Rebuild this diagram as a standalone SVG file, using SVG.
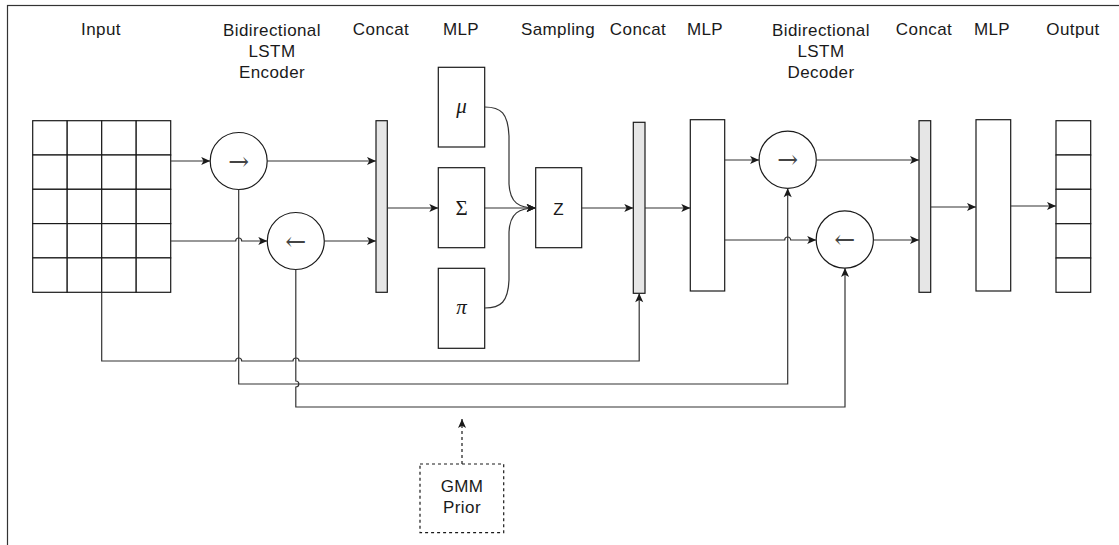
<svg xmlns="http://www.w3.org/2000/svg" width="1119" height="545" viewBox="0 0 1119 545">
<style>
.lbl{font-family:"Liberation Sans",Arial,sans-serif;font-size:17px;letter-spacing:0.4px;fill:#1a1a1a;text-anchor:middle}
.box{fill:#ffffff;stroke:#1a1a1a;stroke-width:1.2}
.bar{fill:#e6e6e6;stroke:#1a1a1a;stroke-width:1.2}
.cell{fill:#ffffff;stroke:#1a1a1a;stroke-width:1.2}
.circ{fill:#ffffff;stroke:#1a1a1a;stroke-width:1.2}
.conn{fill:none;stroke:#333333;stroke-width:1.2;marker-end:url(#arr)}
.dash{fill:none;stroke:#1a1a1a;stroke-width:1.2;stroke-dasharray:3,3;marker-end:url(#arr)}
.sym{font-family:"DejaVu Serif","Liberation Serif",serif;font-size:25px;fill:#444444;text-anchor:middle}
.greek{font-family:"Liberation Serif","DejaVu Serif",serif;font-size:21px;fill:#1a1a1a;text-anchor:middle}
</style>
<defs>
<marker id="arr" viewBox="0 0 10 10" refX="10" refY="5" markerWidth="10" markerHeight="9" markerUnits="userSpaceOnUse" orient="auto">
<path d="M0,0.5 L10,5 L0,9.5 L2.5,5 Z" fill="#1a1a1a"/>
</marker>
</defs>
<rect x="7.5" y="5.5" width="1200" height="600" fill="#ffffff" stroke="#333333" stroke-width="1.2"/>

<g id="labels">
<text class="lbl" x="101" y="35">Input</text>
<text class="lbl" x="272" y="35.5">Bidirectional</text>
<text class="lbl" x="272" y="57">LSTM</text>
<text class="lbl" x="272" y="78.3">Encoder</text>
<text class="lbl" x="381" y="35">Concat</text>
<text class="lbl" x="461" y="35">MLP</text>
<text class="lbl" x="558" y="35">Sampling</text>
<text class="lbl" x="638" y="35">Concat</text>
<text class="lbl" x="705" y="35">MLP</text>
<text class="lbl" x="821" y="35.5">Bidirectional</text>
<text class="lbl" x="821" y="57">LSTM</text>
<text class="lbl" x="821" y="78.3">Decoder</text>
<text class="lbl" x="924" y="35">Concat</text>
<text class="lbl" x="992" y="35">MLP</text>
<text class="lbl" x="1073" y="35">Output</text>
</g>

<g id="input-grid">
<rect class="cell" x="32.7" y="120.7" width="34.5" height="34.3"/>
<rect class="cell" x="67.2" y="120.7" width="34.5" height="34.3"/>
<rect class="cell" x="101.7" y="120.7" width="34.5" height="34.3"/>
<rect class="cell" x="136.2" y="120.7" width="34.5" height="34.3"/>
<rect class="cell" x="32.7" y="155" width="34.5" height="34.3"/>
<rect class="cell" x="67.2" y="155" width="34.5" height="34.3"/>
<rect class="cell" x="101.7" y="155" width="34.5" height="34.3"/>
<rect class="cell" x="136.2" y="155" width="34.5" height="34.3"/>
<rect class="cell" x="32.7" y="189.3" width="34.5" height="34.3"/>
<rect class="cell" x="67.2" y="189.3" width="34.5" height="34.3"/>
<rect class="cell" x="101.7" y="189.3" width="34.5" height="34.3"/>
<rect class="cell" x="136.2" y="189.3" width="34.5" height="34.3"/>
<rect class="cell" x="32.7" y="223.6" width="34.5" height="34.3"/>
<rect class="cell" x="67.2" y="223.6" width="34.5" height="34.3"/>
<rect class="cell" x="101.7" y="223.6" width="34.5" height="34.3"/>
<rect class="cell" x="136.2" y="223.6" width="34.5" height="34.3"/>
<rect class="cell" x="32.7" y="257.9" width="34.5" height="34.4"/>
<rect class="cell" x="67.2" y="257.9" width="34.5" height="34.4"/>
<rect class="cell" x="101.7" y="257.9" width="34.5" height="34.4"/>
<rect class="cell" x="136.2" y="257.9" width="34.5" height="34.4"/>
</g>

<g id="enc-forward">
<circle class="circ" cx="238.7" cy="161" r="28.5"/>
<text class="sym" x="238.7" y="169.5">→</text>
</g>
<g id="enc-backward">
<circle class="circ" cx="295.8" cy="241" r="28.5"/>
<text class="sym" x="295.8" y="249.5">←</text>
</g>
<g id="concat1"><rect class="bar" x="376" y="120.7" width="11.3" height="171.6"/></g>
<g id="mlp-mu"><rect class="box" x="438.3" y="67.3" width="46.4" height="79.7"/><text class="greek" x="461.5" y="113" font-style="italic">μ</text></g>
<g id="mlp-sigma"><rect class="box" x="438.3" y="167.7" width="46.4" height="80"/><text class="greek" x="461.5" y="215">Σ</text></g>
<g id="mlp-pi"><rect class="box" x="438.3" y="268.3" width="46.4" height="80"/><text class="greek" x="461.5" y="314" font-style="italic">π</text></g>
<g id="sampling-z"><rect class="box" x="535.7" y="167.7" width="46" height="80"/><text class="lbl" x="558.7" y="214.5">Z</text></g>
<g id="concat2"><rect class="bar" x="633.3" y="122.3" width="11.7" height="171"/></g>
<g id="mlp2"><rect class="box" x="690.3" y="119.7" width="34.4" height="171.3"/></g>
<g id="dec-forward">
<circle class="circ" cx="787.7" cy="159.7" r="28.6"/>
<text class="sym" x="787.7" y="168.2">→</text>
</g>
<g id="dec-backward">
<circle class="circ" cx="844.8" cy="239.5" r="28.6"/>
<text class="sym" x="844.8" y="248">←</text>
</g>
<g id="concat3"><rect class="bar" x="919" y="120.7" width="11.7" height="171.6"/></g>
<g id="mlp3"><rect class="box" x="976" y="119.7" width="34.7" height="171.3"/></g>
<g id="output">
<rect class="cell" x="1056" y="120.7" width="34.7" height="34.3"/>
<rect class="cell" x="1056" y="155" width="34.7" height="34.3"/>
<rect class="cell" x="1056" y="189.3" width="34.7" height="34.4"/>
<rect class="cell" x="1056" y="223.7" width="34.7" height="34.3"/>
<rect class="cell" x="1056" y="258" width="34.7" height="34.3"/>
</g>
<g id="gmm-prior">
<rect x="420" y="464" width="83.7" height="68.7" fill="#ffffff" stroke="#1a1a1a" stroke-width="1.2" stroke-dasharray="3,3"/>
<text class="lbl" x="462" y="492">GMM</text>
<text class="lbl" x="462" y="513.3">Prior</text>
</g>

<g id="connectors">
<path class="conn" d="M170.7,161 L210.2,161"/>
<path class="conn" d="M170.7,241 L235.7,241 A3,3 0 0 1 241.7,241 L267.3,241"/>
<path class="conn" d="M267.2,161 L376,161"/>
<path class="conn" d="M324.3,241 L376,241"/>
<path class="conn" d="M387.3,208 L438.3,208"/>
<path class="conn" d="M484.7,107 C501,107 508,113 509,136 L509,184 C510,203 519,208 535.7,208"/>
<path class="conn" d="M484.7,208 L535.7,208"/>
<path class="conn" d="M484.7,308 C501,308 508,302 509,280 L509,232 C510,213 519,208 535.7,208"/>
<path class="conn" d="M581.7,208 L633.3,208"/>
<path class="conn" d="M645,208 L690.3,208"/>
<path class="conn" d="M724.7,160 L759.1,160"/>
<path class="conn" d="M724.7,240 L784.7,240 A3,3 0 0 1 790.7,240 L816.2,240"/>
<path class="conn" d="M816.3,160 L919,160"/>
<path class="conn" d="M873.4,240 L919,240"/>
<path class="conn" d="M930.7,207 L976,207"/>
<path class="conn" d="M1010.7,206 L1056,206"/>
<path class="conn" d="M101.7,292.3 L101.7,361 L235.7,361 A3,3 0 0 1 241.7,361 L293,361 A3,3 0 0 1 299,361 L639.2,361 L639.2,293.3"/>
<path class="conn" d="M238.7,189.5 L238.7,384 L787.7,384 L787.7,188.3"/>
<path class="conn" d="M295.8,269.5 L295.8,381 A3,3 0 0 1 295.8,387 L295.8,407 L845,407 L845,268.1"/>
<path class="dash" d="M462,464 L462,419"/>
</g>
</svg>
